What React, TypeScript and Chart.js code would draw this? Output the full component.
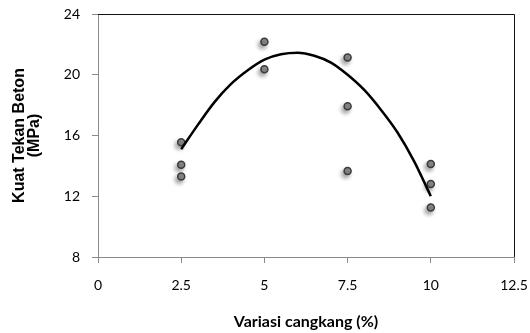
import React, { useEffect, useRef } from "react";
import { Chart, registerables } from "chart.js";
Chart.register(...registerables);

// Observed data (cangkang variation % vs. compressive strength MPa)
const dosage = [2.5, 2.5, 2.5, 5, 5, 7.5, 7.5, 7.5, 10, 10, 10];
const strength = [15.55, 14.07, 13.3, 22.17, 20.36, 21.13, 17.92, 13.67, 14.13, 12.81, 11.26];

// Polynomial trendline
const trendX = [2.5, 3, 3.5, 4, 4.5, 5, 5.5, 6, 6.5, 7, 7.5, 8, 8.5, 9, 9.5, 10];
const trendY = [15.1, 16.7, 18.2, 19.4, 20.3, 21.0, 21.35, 21.45, 21.25, 20.8, 20.0, 19.0, 17.7, 16.2, 14.3, 12.0];

const xTicks = [0, 2.5, 5, 7.5, 10, 12.5];
const yTicks = [8, 12, 16, 20, 24];

const xTitle = "Variasi cangkang (%)";
const yTitle = ["Kuat Tekan Beton", "(MPa)"];

const AXIS_GRAY = "#8a8a8a";

const pointShadow = {
  id: "pointShadow",
  beforeDatasetDraw(chart: any, args: any) {
    if (args.index !== 1) return;
    const ctx = chart.ctx;
    ctx.save();
    ctx.shadowColor = "rgba(0,0,0,0.35)";
    ctx.shadowBlur = 4;
    ctx.shadowOffsetX = -2;
    ctx.shadowOffsetY = 3;
  },
  afterDatasetDraw(chart: any, args: any) {
    if (args.index !== 1) return;
    chart.ctx.restore();
  },
};

const frame = {
  id: "frame",
  beforeDatasetsDraw(chart: any) {
    const { ctx, chartArea } = chart;
    ctx.save();
    ctx.strokeStyle = "#111";
    ctx.lineWidth = 1;
    ctx.beginPath();
    ctx.moveTo(chartArea.left, chartArea.top + 0.5);
    ctx.lineTo(chartArea.right + 0.5, chartArea.top + 0.5);
    ctx.lineTo(chartArea.right + 0.5, chartArea.bottom);
    ctx.stroke();
    ctx.restore();
  },
};

export default function App() {
  const ref = useRef<HTMLCanvasElement | null>(null);
  useEffect(() => {
    if (!ref.current) return;
    const tickFont = { family: "Lato, 'Open Sans', sans-serif", size: 14 };
    const chart = new Chart(ref.current, {
      type: "scatter",
      data: {
        datasets: [
          {
            type: "line",
            data: trendX.map((x, i) => ({ x, y: trendY[i] })),
            borderColor: "#000",
            borderWidth: 2.5,
            pointRadius: 0,
            tension: 0.4,
            cubicInterpolationMode: "monotone",
            fill: false,
          } as any,
          {
            data: dosage.map((x, i) => ({ x, y: strength[i] })),
            pointRadius: 3.5,
            pointBackgroundColor: "#8c8c8c",
            pointBorderColor: "#3a3a3a",
            pointBorderWidth: 1.5,
            showLine: false,
          } as any,
        ],
      },
      options: {
        animation: false,
        responsive: false,
        devicePixelRatio: 1,
        layout: { padding: { top: 14, right: 16, bottom: 0, left: 0 } },
        plugins: { legend: { display: false }, tooltip: { enabled: false } },
        scales: {
          x: {
            type: "linear",
            min: 0,
            max: 12.5,
            afterBuildTicks: (s: any) => {
              s.ticks = xTicks.map((v) => ({ value: v }));
            },
            afterFit: (s: any) => {
              s.height = 76;
              s.paddingLeft = 0;
              s.paddingRight = 0;
            },
            ticks: { font: tickFont, color: "#000", padding: 14, maxRotation: 0, callback: (v: any) => String(v) },
            grid: { drawOnChartArea: false, tickLength: 6, color: AXIS_GRAY },
            border: { color: AXIS_GRAY },
            title: {
              display: true,
              text: xTitle,
              color: "#000",
              font: { family: "Lato, 'Open Sans', sans-serif", size: 16, weight: "bold" },
              padding: { top: 0, bottom: 2 },
            },
          },
          y: {
            type: "linear",
            min: 8,
            max: 24,
            afterBuildTicks: (s: any) => {
              s.ticks = yTicks.map((v) => ({ value: v }));
            },
            afterFit: (s: any) => {
              s.width = 98;
              s.paddingTop = 0;
              s.paddingBottom = 0;
            },
            ticks: { font: tickFont, color: "#000", padding: 12, callback: (v: any) => String(v) },
            grid: { drawOnChartArea: false, tickLength: 6, color: AXIS_GRAY },
            border: { color: AXIS_GRAY },
            title: {
              display: true,
              text: yTitle,
              color: "#000",
              font: { family: "'Liberation Sans', Arial, sans-serif", size: 16, weight: "bold", lineHeight: 0.95 },
              padding: { top: 12, bottom: 0 },
            },
          },
        },
      },
      plugins: [pointShadow, frame],
    });
    return () => chart.destroy();
  }, []);
  return (
    <div style={{ position: "fixed", left: 0, top: 0, width: 530, height: 333, background: "#fff" }}>
      <canvas ref={ref} width={530} height={333} />
    </div>
  );
}
